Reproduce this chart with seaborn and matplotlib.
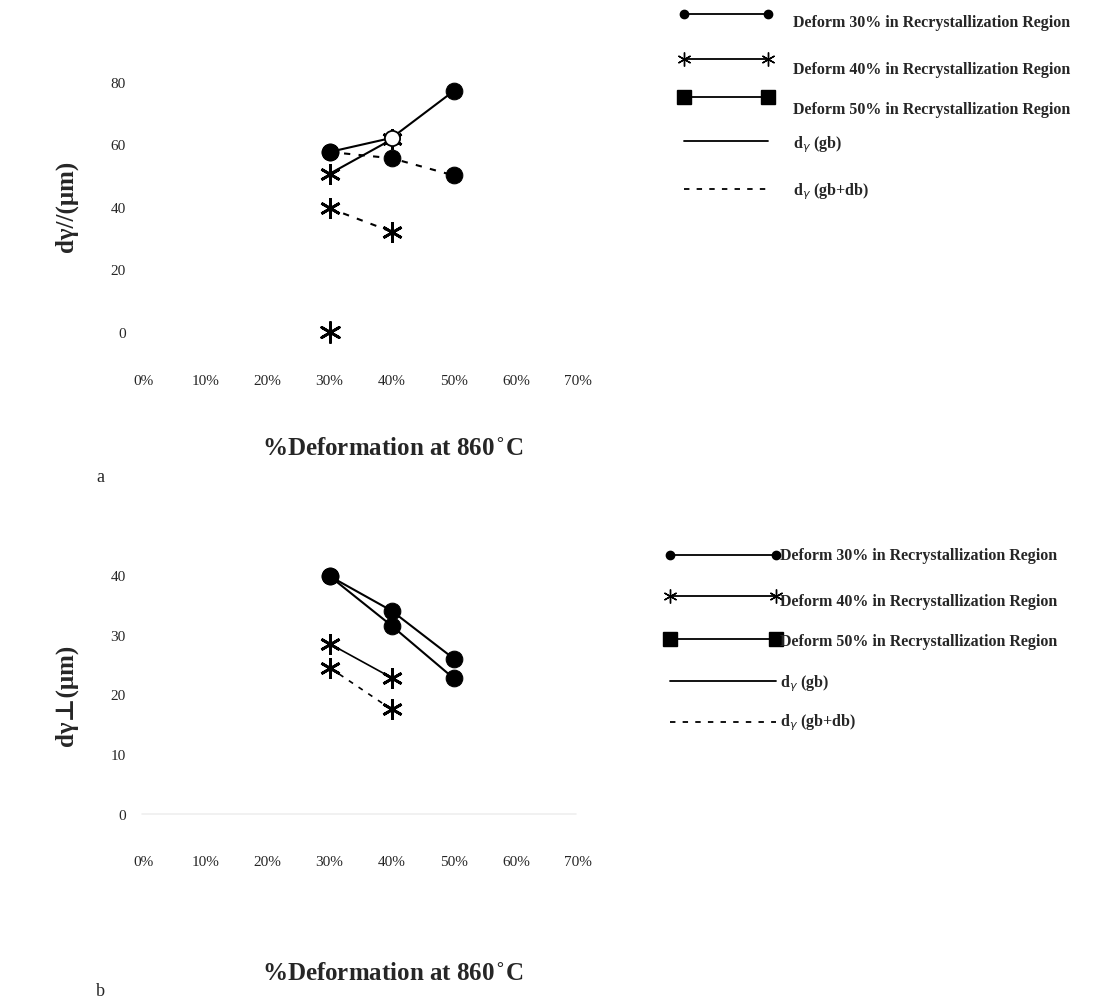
import matplotlib
matplotlib.use("Agg")
import matplotlib.pyplot as plt
import seaborn as sns
import pandas as pd
from matplotlib.lines import Line2D

sns.set_style("white")
plt.rcParams['font.family'] = ['Liberation Serif', 'DejaVu Serif']

# ---------------- data ----------------
x_ticks = [0, 10, 20, 30, 40, 50, 60, 70]
x_ticklabels = ["0%", "10%", "20%", "30%", "40%", "50%", "60%", "70%"]

# panel a
a_circle_gb_x = [30, 40, 50]
a_circle_gb_y = [57.5, 62, 77]
a_circle_gbdb_x = [30, 40, 50]
a_circle_gbdb_y = [57.5, 55.5, 50]
a_star_gb_x = [30, 40]
a_star_gb_y = [50.5, 61.5]
a_star_gbdb_x = [30, 40]
a_star_gbdb_y = [39.5, 32]
a_star_extra_x = [30]
a_star_extra_y = [0]
a_yticks = [0, 20, 40, 60, 80]

# panel b
b_circle1_x = [30, 40, 50]
b_circle1_y = [39.8, 34, 26]
b_circle2_x = [30, 40, 50]
b_circle2_y = [39.8, 31.5, 22.7]
b_star_gb_x = [30, 40]
b_star_gb_y = [28.5, 22.8]
b_star_gbdb_x = [30, 40]
b_star_gbdb_y = [24.5, 17.5]
b_yticks = [0, 10, 20, 30, 40]

legend_labels = ["Deform 30% in Recrystallization Region",
                 "Deform 40% in Recrystallization Region",
                 "Deform 50% in Recrystallization Region",
                 r"d$_\gamma$ (gb)",
                 r"d$_\gamma$ (gb+db)"]

W, H = 1098, 1004
fig = plt.figure(figsize=(W / 100, H / 100), dpi=100)


def fx(px):
    return px / W


def fy(py):
    return 1 - py / H


STAR = (6, 2, 0)
LW = 1.5
DASH = (0, (3, 4))


def style_axes(ax, yticks, ylim):
    ax.set_xlim(-1, 75)
    ax.set_ylim(*ylim)
    ax.set_xticks(x_ticks)
    ax.set_xticklabels(x_ticklabels)
    ax.set_yticks(yticks)
    ax.tick_params(axis='both', length=0, labelsize=11, pad=8)
    for s in ax.spines.values():
        s.set_visible(False)
    ax.set_xlabel("")
    ax.set_ylabel("")
    ax.grid(False)


# ---------------- panel a ----------------
axa = fig.add_axes([fx(137), fy(364), fx(609) - fx(137), fy(67) - fy(364)])
sns.lineplot(x=a_circle_gbdb_x, y=a_circle_gbdb_y, ax=axa, color='black', lw=LW,
             linestyle=DASH, marker='o', markersize=12, markeredgecolor='black')
sns.lineplot(x=a_circle_gb_x, y=a_circle_gb_y, ax=axa, color='black', lw=LW,
             marker='o', markersize=12, markeredgecolor='black', markevery=[0, 2])
sns.scatterplot(x=[a_circle_gb_x[1]], y=[a_circle_gb_y[1]], ax=axa, s=120,
                facecolor='white', edgecolor='black', linewidth=1.3, zorder=3)
sns.lineplot(x=a_star_gb_x, y=a_star_gb_y, ax=axa, color='black', lw=LW,
             marker=STAR, markersize=15, markeredgewidth=2.0, markeredgecolor='black')
sns.lineplot(x=a_star_gbdb_x, y=a_star_gbdb_y, ax=axa, color='black', lw=LW,
             linestyle=DASH, marker=STAR, markersize=15, markeredgewidth=2.0,
             markeredgecolor='black')
sns.scatterplot(x=a_star_extra_x, y=a_star_extra_y, ax=axa, marker=STAR, s=210,
                color='black', linewidth=2.0, edgecolor='black')
style_axes(axa, a_yticks, (-10, 85))

# ---------------- panel b ----------------
axb = fig.add_axes([fx(137), fy(845), fx(609) - fx(137), fy(546) - fy(845)])
axb.axhline(0, xmin=0.01, xmax=0.93, color='#efefef', lw=1.2, zorder=0)
sns.lineplot(x=b_circle1_x, y=b_circle1_y, ax=axb, color='black', lw=LW,
             marker='o', markersize=12, markeredgecolor='black')
sns.lineplot(x=b_circle2_x, y=b_circle2_y, ax=axb, color='black', lw=LW,
             marker='o', markersize=12, markeredgecolor='black')
sns.lineplot(x=b_star_gb_x, y=b_star_gb_y, ax=axb, color='black', lw=1.2,
             marker=STAR, markersize=15, markeredgewidth=2.0, markeredgecolor='black')
sns.lineplot(x=b_star_gbdb_x, y=b_star_gbdb_y, ax=axb, color='black', lw=1.2,
             linestyle=DASH, marker=STAR, markersize=15, markeredgewidth=2.0,
             markeredgecolor='black')
style_axes(axb, b_yticks, (-5, 45))

# ---------------- labels ----------------
lab_kw = dict(fontweight='bold', ha='center', va='center')
fig.text(fx(66), fy(206), "dγ//(μm)", rotation=90, fontsize=18, **lab_kw)
fig.text(fx(66), fy(695), "dγ⊥(μm)", rotation=90, fontsize=18, **lab_kw)
fig.text(fx(393), fy(449), "%Deformation at 860$^{\\circ}$C", fontsize=18, **lab_kw)
fig.text(fx(393), fy(975), "%Deformation at 860$^{\\circ}$C", fontsize=18, **lab_kw)
fig.text(fx(100), fy(478), "a", fontsize=13, ha='center', va='center')
fig.text(fx(100), fy(992), "b", fontsize=13, ha='center', va='center')

# ---------------- legends (drawn manually) ----------------
lg = fig.add_axes([0, 0, 1, 1], zorder=5)
lg.set_xlim(0, W)
lg.set_ylim(H, 0)
lg.axis('off')
lg.patch.set_alpha(0)


def legend_block(x0, x1, ys, tx, tys):
    specs = [dict(marker='o', markersize=6, ls='-'),
             dict(marker=STAR, markersize=10, markeredgewidth=1.0, ls='-'),
             dict(marker='s', markersize=10, ls='-'),
             dict(marker=None, ls='-'),
             dict(marker=None, ls=DASH)]
    for spec, y, ty, lab in zip(specs, ys, tys, legend_labels):
        lg.add_line(Line2D([x0, x1], [y, y], color='black', lw=1.3,
                           markerfacecolor='black', markeredgecolor='black', **spec))
        lg.text(tx, ty, lab, fontsize=11.5, fontweight='bold', ha='left', va='center')


legend_block(684, 768, [15, 60, 98, 142, 190], 793, [23, 70, 110, 145, 192])
legend_block(670, 776, [556, 597, 640, 682, 723], 780, [556, 602, 642, 684, 723])

fig.savefig("out.png", dpi=100, facecolor='white')
